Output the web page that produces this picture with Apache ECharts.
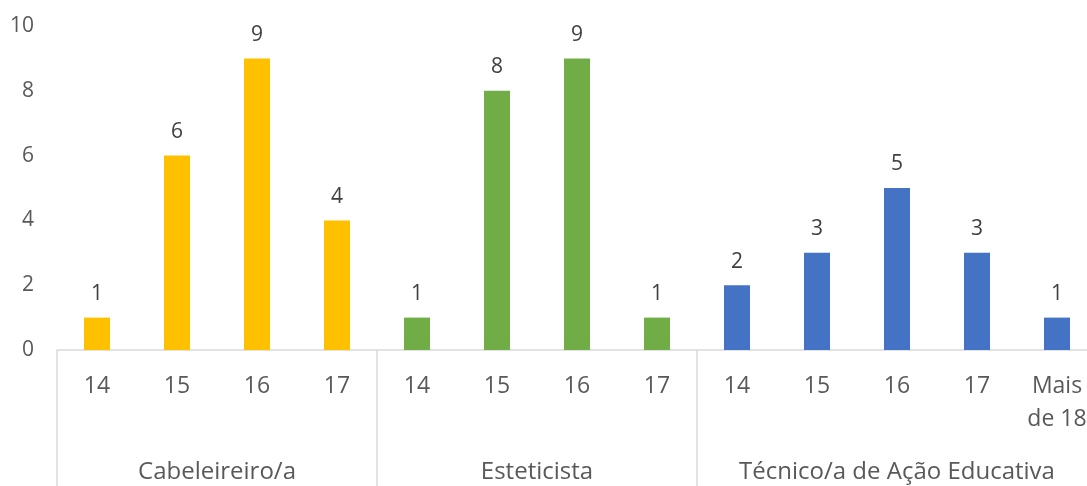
<!DOCTYPE html>
<html>
<head>
<meta charset="utf-8">
<script src="https://cdn.jsdelivr.net/npm/echarts@6/dist/echarts.min.js"></script>
<style>
  html, body { margin: 0; padding: 0; background: #fff; }
  #chart { width: 1087px; height: 486px; }
</style>
</head>
<body>
<div id="chart"></div>
<script>
// categories (age) and counts, grouped by course
const ages = ['14', '15', '16', '17', '14', '15', '16', '17', '14', '15', '16', '17', 'Mais\nde 18'];
const counts = [1, 6, 9, 4, 1, 8, 9, 1, 2, 3, 5, 3, 1];
const groupOf = [0, 0, 0, 0, 1, 1, 1, 1, 2, 2, 2, 2, 2];
const groups = ['Cabeleireiro/a', 'Esteticista', 'Técnico/a de Ação Educativa'];
const groupColors = ['#FFC000', '#70AD47', '#4472C4'];
const yTicks = [0, 2, 4, 6, 8, 10];

// group boundaries and centres along the category index scale
const bounds = [0];
const centres = [];
groups.forEach((g, gi) => {
  const n = groupOf.filter(x => x === gi).length;
  const start = bounds[bounds.length - 1];
  centres.push(start + n / 2);
  bounds.push(start + n);
});

const font = '"Open Sans", Lato, sans-serif';
const chart = echarts.init(document.getElementById('chart'));

chart.setOption({
  animation: false,
  grid: { left: 57, top: 26, width: 1040, height: 324, containLabel: false, outerBoundsMode: 'none' },
  xAxis: [
    {
      type: 'category',
      data: ages,
      axisLine: { lineStyle: { color: '#d9d9d9', width: 1.5 } },
      axisTick: { show: false },
      axisLabel: {
        color: '#595959', fontFamily: font, fontSize: 23,
        margin: 20, lineHeight: 33, interval: 0
      }
    },
    {
      type: 'value',
      min: 0,
      max: ages.length,
      position: 'bottom',
      axisLine: { show: false },
      splitLine: { show: false },
      axisTick: {
        show: true, length: 140, customValues: bounds,
        lineStyle: { color: '#d9d9d9', width: 1.5 }
      },
      axisLabel: {
        customValues: centres,
        formatter: v => groups[centres.indexOf(v)] || '',
        color: '#595959', fontFamily: font, fontSize: 24, margin: 110
      }
    }
  ],
  yAxis: {
    type: 'value',
    min: yTicks[0],
    max: yTicks[yTicks.length - 1],
    interval: 2,
    axisLine: { show: false },
    axisTick: { show: false },
    splitLine: { show: false },
    axisLabel: { color: '#595959', fontFamily: font, fontSize: 21, margin: 23 }
  },
  series: [{
    type: 'bar',
    xAxisIndex: 0,
    barWidth: 26,
    data: counts.map((v, i) => ({ value: v, itemStyle: { color: groupColors[groupOf[i]] } })),
    label: {
      show: true, position: 'top', distance: 13,
      color: '#404040', fontFamily: font, fontSize: 21
    }
  }]
});
</script>
</body>
</html>
